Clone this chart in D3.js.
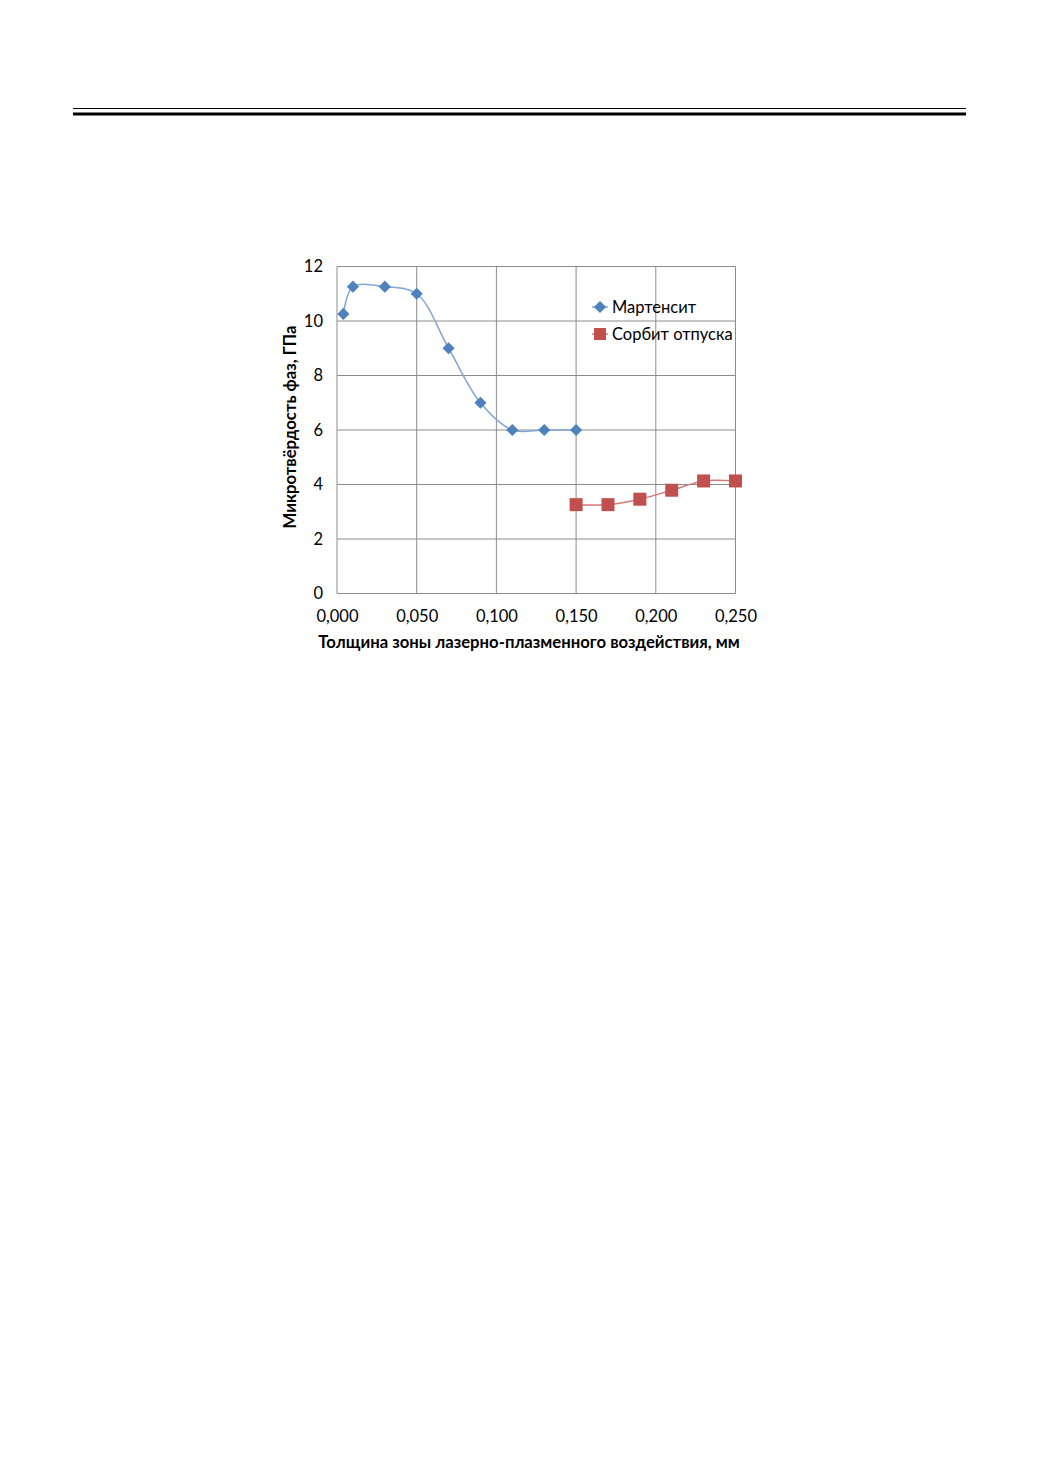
<!DOCTYPE html>
<html>
<head>
<meta charset="utf-8">
<script src="https://cdn.jsdelivr.net/npm/d3@7"></script>
<style>
  html, body { margin: 0; padding: 0; background: #fff; }
  svg { display: block; }
  text { font-family: Lato, "Open Sans", sans-serif; fill: #000; }
</style>
</head>
<body>
<script>
// ---- data ----
const martX = [0.004, 0.01, 0.03, 0.05, 0.07, 0.09, 0.11, 0.13, 0.15];
const martY = [10.26, 11.26, 11.26, 11.0, 9.0, 7.0, 6.0, 6.0, 6.0];
const sorbX = [0.15, 0.17, 0.19, 0.21, 0.23, 0.25];
const sorbY = [3.26, 3.26, 3.46, 3.79, 4.13, 4.13];
const xTicks = [0, 0.05, 0.1, 0.15, 0.2, 0.25];
const xTickLabels = ["0,000", "0,050", "0,100", "0,150", "0,200", "0,250"];
const yTicks = [0, 2, 4, 6, 8, 10, 12];
const seriesNames = ["Мартенсит", "Сорбит отпуска"];
const xTitle = "Толщина зоны лазерно-плазменного воздействия, мм";
const yTitle = "Микротвёрдость фаз, ГПа";

const W = 1040, H = 1471;
const svg = d3.select("body").append("svg").attr("width", W).attr("height", H);

// header rules
svg.append("line").attr("x1", 73).attr("x2", 966).attr("y1", 108.5).attr("y2", 108.5)
  .attr("stroke", "#000").attr("stroke-width", 1.2);
svg.append("line").attr("x1", 73).attr("x2", 966).attr("y1", 114).attr("y2", 114)
  .attr("stroke", "#000").attr("stroke-width", 2.8);

const x = d3.scaleLinear().domain([0, 0.25]).range([337, 735.5]);
const y = d3.scaleLinear().domain([0, 12]).range([593.5, 266.5]);

const grid = "#8c8c8c";
svg.append("g").selectAll("line").data(xTicks).join("line")
  .attr("x1", d => x(d)).attr("x2", d => x(d))
  .attr("y1", y(12)).attr("y2", y(0))
  .attr("stroke", grid).attr("stroke-width", 1);
svg.append("g").selectAll("line").data(yTicks).join("line")
  .attr("x1", x(0)).attr("x2", x(0.25))
  .attr("y1", d => y(d)).attr("y2", d => y(d))
  .attr("stroke", grid).attr("stroke-width", 1);

const fs = "16.5px";
const xAxis = d3.axisBottom(x).tickValues(xTicks).tickSize(0).tickPadding(17)
  .tickFormat((d, i) => xTickLabels[i]);
const gx = svg.append("g").attr("transform", `translate(0,${y(0)})`).call(xAxis);
gx.select(".domain").remove();
gx.selectAll("text").style("font-family", "Lato, sans-serif").style("font-size", fs).attr("fill", "#000");

const yAxis = d3.axisLeft(y).tickValues(yTicks).tickSize(0).tickPadding(14);
const gy = svg.append("g").attr("transform", `translate(${x(0)},0)`).call(yAxis);
gy.select(".domain").remove();
gy.selectAll("text").style("font-family", "Lato, sans-serif").style("font-size", fs).attr("fill", "#000");

svg.append("text").attr("x", 529).attr("y", 648).attr("text-anchor", "middle")
  .style("font-weight", "bold").style("font-size", "16.7px").text(xTitle);
svg.append("text").attr("transform", "translate(296,427) rotate(-90)").attr("text-anchor", "middle")
  .style("font-weight", "bold").style("font-size", "16.7px").text(yTitle);

const martData = martX.map((d, i) => [d, martY[i]]);
const sorbData = sorbX.map((d, i) => [d, sorbY[i]]);
const line = d3.line().x(d => x(d[0])).y(d => y(d[1])).curve(d3.curveCatmullRom.alpha(0.5));

svg.append("path").datum(martData).attr("d", line).attr("fill", "none")
  .attr("stroke", "#7ea6d6").attr("stroke-width", 1.5);
svg.append("path").datum(sorbData).attr("d", line).attr("fill", "none")
  .attr("stroke", "#d27a77").attr("stroke-width", 1.5);

const blue = "#4f81bd", red = "#c0504d";
const diamond = d3.symbol().type(d3.symbolDiamond2).size(95);
svg.append("g").selectAll("path").data(martData).join("path")
  .attr("d", diamond)
  .attr("transform", d => `translate(${x(d[0])},${y(d[1])})`)
  .attr("fill", blue);
svg.append("g").selectAll("rect").data(sorbData).join("rect")
  .attr("x", d => x(d[0]) - 6.5).attr("y", d => y(d[1]) - 6.5)
  .attr("width", 13).attr("height", 13).attr("fill", red);

const lg = svg.append("g");
lg.append("line").attr("x1", 592).attr("x2", 608).attr("y1", 307).attr("y2", 307)
  .attr("stroke", "#7ea6d6").attr("stroke-width", 1.5);
lg.append("path").attr("d", diamond).attr("transform", "translate(600,307)").attr("fill", blue);
lg.append("line").attr("x1", 592).attr("x2", 608).attr("y1", 334).attr("y2", 334)
  .attr("stroke", "#d27a77").attr("stroke-width", 1.5);
lg.append("rect").attr("x", 594).attr("y", 328).attr("width", 12).attr("height", 12).attr("fill", red);
lg.selectAll("text").data(seriesNames).join("text")
  .attr("x", 612).attr("y", (d, i) => 307 + i * 27).attr("dy", "0.35em")
  .style("font-size", fs).text(d => d);
</script>
</body>
</html>
